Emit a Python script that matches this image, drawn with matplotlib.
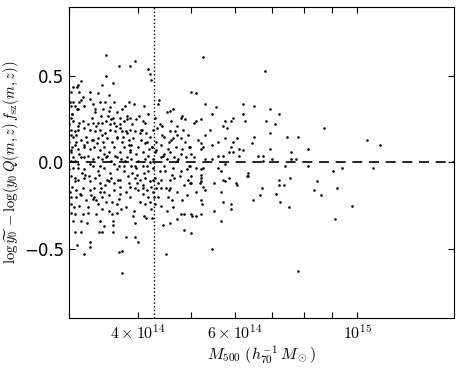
import matplotlib
matplotlib.use("Agg")
import matplotlib.pyplot as plt
import numpy as np

plt.rcParams['mathtext.fontset'] = 'cm'

# masses in units of 1e14 h70^-1 Msun, residuals in dex
# isolated high points
m_top = [3.50, 3.70, 3.87, 3.96, 3.50, 3.60, 3.45, 4.18, 4.20, 4.22, 5.25, 6.80]
d_top = [0.62, 0.56, 0.56, 0.59, 0.50, 0.46, 0.45, 0.54, 0.51, 0.48, 0.61, 0.53]

# high-mass tail
m_hi = [8.70, 10.4, 11.0, 9.05, 9.40, 10.7, 9.20, 8.60, 9.80, 9.10]
d_hi = [0.20, 0.13, 0.10, -0.05, -0.03, -0.03, -0.15, -0.19, -0.25, -0.33]

# isolated low points
m_lo = [7.80, 5.45, 5.00, 3.75, 3.20, 3.10, 3.28, 3.28, 3.70, 3.75,
        4.50, 4.00, 3.95, 3.80, 3.15, 3.40, 3.08, 3.60, 3.45]
d_lo = [-0.63, -0.50, -0.41, -0.64, -0.53, -0.48, -0.49, -0.46, -0.52, -0.51,
        -0.53, -0.46, -0.43, -0.43, -0.40, -0.40, -0.40, -0.40, -0.40]

# 5e14 - 8e14, above zero
m_mid_up = [4.99, 5.10, 5.30, 5.55, 5.45, 6.20, 6.50, 6.20, 6.95, 7.20,
            6.84, 6.25, 5.95, 5.90, 5.75, 5.20, 5.10, 5.05, 7.10, 5.70,
            5.80, 5.40, 5.30, 6.95, 6.50, 6.05, 5.75, 5.60, 5.95, 5.15,
            5.20, 5.45, 5.90, 4.95, 5.25, 5.20, 6.10, 6.45, 7.45, 7.80,
            6.95, 8.15, 7.60, 5.85, 5.95, 6.20, 5.00, 5.70, 5.60, 6.10,
            6.60, 6.75, 5.45, 5.30, 5.05, 7.00, 7.60, 7.75, 6.75, 5.75]
d_mid_up = [0.41, 0.40, 0.34, 0.32, 0.28, 0.34, 0.33, 0.28, 0.31, 0.28,
            0.24, 0.24, 0.26, 0.24, 0.24, 0.25, 0.24, 0.23, 0.22, 0.21,
            0.20, 0.19, 0.16, 0.17, 0.15, 0.14, 0.14, 0.12, 0.12, 0.13,
            0.11, 0.10, 0.09, 0.09, 0.09, 0.08, 0.08, 0.11, 0.15, 0.15,
            0.08, 0.08, 0.06, 0.06, 0.06, 0.07, 0.05, 0.04, 0.04, 0.04,
            0.04, 0.04, 0.02, 0.02, 0.03, 0.02, 0.02, 0.02, 0.01, -0.01]

# 5e14 - 8e14, below zero
m_mid_lo = [5.10, 5.25, 5.60, 4.95, 7.40, 8.15, 5.20, 5.65, 5.00, 5.20,
            5.20, 5.20, 4.97, 5.00, 5.18, 5.25, 5.30, 5.10, 5.50, 5.70,
            5.75, 5.85, 6.03, 6.05, 6.34, 6.34, 6.30, 5.65, 5.20, 5.23,
            5.70, 5.90, 5.90, 5.50, 6.47, 6.72, 6.65, 7.13, 7.20, 7.22,
            7.37, 7.56, 7.25, 7.52, 8.46, 8.35, 5.00, 5.02, 5.10, 5.20,
            5.65]
d_mid_lo = [-0.03, -0.03, -0.03, -0.02, -0.02, -0.02, -0.04, -0.05, -0.08, -0.07,
            -0.09, -0.11, -0.12, -0.12, -0.12, -0.14, -0.16, -0.17, -0.12, -0.10,
            -0.11, -0.09, -0.12, -0.13, -0.06, -0.08, -0.08, -0.17, -0.22, -0.24,
            -0.23, -0.24, -0.27, -0.28, -0.22, -0.15, -0.19, -0.18, -0.13, -0.10,
            -0.13, -0.09, -0.23, -0.26, -0.11, -0.16, -0.30, -0.31, -0.31, -0.30,
            -0.34]

# 3e14 - 3.9e14, above zero
m_a = [3.15, 3.12, 3.10, 3.05, 3.02, 3.13, 3.27, 3.38, 3.55, 3.18,
       3.05, 3.13, 3.28, 3.32, 3.42, 3.48, 3.62, 3.85, 3.01, 3.02,
       3.08, 3.12, 3.20, 3.35, 3.46, 3.56, 3.66, 3.75, 3.82, 3.71,
       3.02, 3.04, 3.05, 3.13, 3.18, 3.25, 3.31, 3.38, 3.45, 3.50,
       3.56, 3.62, 3.71, 3.77, 3.87, 3.00, 3.02, 3.07, 3.12, 3.20,
       3.28, 3.35, 3.42, 3.48, 3.56, 3.64, 3.71, 3.80, 3.02, 3.05,
       3.09, 3.15, 3.22, 3.31, 3.39, 3.46, 3.51, 3.59, 3.67, 3.75,
       3.85, 3.00, 3.04, 3.08, 3.12, 3.20, 3.28, 3.33, 3.41, 3.47,
       3.55, 3.62, 3.71, 3.77, 3.87, 3.02, 3.05, 3.13, 3.16, 3.25,
       3.32, 3.38, 3.44, 3.50, 3.58, 3.66, 3.73, 3.82, 3.02, 3.12,
       3.28, 3.41, 3.62, 3.77]
d_a = [0.47, 0.45, 0.44, 0.44, 0.41, 0.41, 0.41, 0.40, 0.39, 0.38,
       0.35, 0.35, 0.37, 0.34, 0.35, 0.35, 0.35, 0.35, 0.35, 0.33,
       0.33, 0.31, 0.33, 0.31, 0.31, 0.32, 0.29, 0.31, 0.27, 0.26,
       0.26, 0.28, 0.24, 0.23, 0.24, 0.22, 0.23, 0.23, 0.23, 0.24,
       0.22, 0.23, 0.22, 0.24, 0.26, 0.22, 0.19, 0.18, 0.19, 0.20,
       0.19, 0.18, 0.19, 0.17, 0.19, 0.18, 0.20, 0.18, 0.16, 0.15,
       0.16, 0.13, 0.15, 0.13, 0.14, 0.12, 0.14, 0.12, 0.14, 0.12,
       0.13, 0.12, 0.09, 0.10, 0.08, 0.10, 0.08, 0.09, 0.07, 0.09,
       0.06, 0.09, 0.06, 0.09, 0.07, 0.06, 0.03, 0.05, 0.03, 0.04,
       0.02, 0.03, 0.02, 0.03, 0.01, 0.03, 0.02, 0.03, 0.01, -0.01,
       -0.01, -0.02, -0.01, -0.02]

# 3.8e14 - 5e14, above zero
m_b = [3.93, 4.10, 4.37, 4.35, 4.57, 4.63, 4.17, 3.83, 3.97, 4.08,
       4.29, 4.39, 4.59, 4.79, 4.88, 3.87, 3.95, 4.07, 4.14, 4.26,
       4.42, 4.57, 4.72, 4.84, 4.94, 3.92, 4.05, 4.20, 4.32, 4.47,
       4.59, 4.79, 4.88, 3.89, 4.00, 4.12, 4.25, 4.40, 4.53, 4.69,
       4.82, 4.97, 3.87, 3.97, 4.08, 4.17, 4.30, 4.45, 4.57, 4.66,
       4.79, 4.90, 3.89, 4.00, 4.12, 4.20, 4.26, 4.51, 4.72, 3.95,
       4.15, 4.47, 4.97, 4.51, 4.81, 4.72]
d_b = [0.34, 0.33, 0.36, 0.34, 0.30, 0.31, 0.28, 0.25, 0.25, 0.24,
       0.26, 0.22, 0.24, 0.26, 0.25, 0.19, 0.18, 0.19, 0.17, 0.19,
       0.16, 0.18, 0.16, 0.19, 0.16, 0.14, 0.13, 0.15, 0.12, 0.15,
       0.13, 0.14, 0.12, 0.10, 0.09, 0.11, 0.09, 0.10, 0.08, 0.09,
       0.08, 0.09, 0.06, 0.05, 0.06, 0.04, 0.06, 0.04, 0.06, 0.03,
       0.05, 0.03, 0.02, 0.01, 0.02, 0.00, 0.02, 0.02, 0.01, -0.02,
       -0.02, -0.02, -0.02, 0.29, 0.27, 0.21]

# 3e14 - 3.9e14, below zero
m_c = [3.00, 3.05, 3.12, 3.20, 3.31, 3.38, 3.47, 3.56, 3.67, 3.77,
       3.02, 3.07, 3.12, 3.20, 3.28, 3.35, 3.42, 3.51, 3.62, 3.71,
       3.85, 3.04, 3.09, 3.18, 3.28, 3.33, 3.41, 3.47, 3.55, 3.62,
       3.71, 3.80, 3.87, 3.02, 3.09, 3.15, 3.22, 3.33, 3.36, 3.44,
       3.50, 3.67, 3.03, 3.13, 3.02, 3.08, 3.18, 3.25, 3.36, 3.55,
       3.59, 3.67, 3.73, 3.05, 3.16, 3.42, 3.47, 3.60, 3.60, 3.25]
d_c = [-0.04, -0.03, -0.03, -0.04, -0.02, -0.05, -0.03, -0.06, -0.04, -0.05,
       -0.08, -0.09, -0.10, -0.09, -0.11, -0.09, -0.12, -0.10, -0.12, -0.10,
       -0.12, -0.14, -0.16, -0.15, -0.16, -0.15, -0.17, -0.17, -0.19, -0.16,
       -0.18, -0.17, -0.20, -0.20, -0.20, -0.19, -0.22, -0.20, -0.22, -0.20,
       -0.23, -0.24, -0.24, -0.25, -0.29, -0.30, -0.30, -0.29, -0.30, -0.28,
       -0.30, -0.29, -0.27, -0.34, -0.34, -0.34, -0.37, -0.34, -0.36, -0.26]

# 3.8e14 - 5e14, below zero
m_d = [3.88, 3.97, 4.08, 4.18, 4.26, 4.48, 4.63, 4.79, 4.92, 3.95,
       4.03, 4.12, 4.20, 4.30, 4.40, 4.57, 4.66, 4.77, 4.94, 3.87,
       3.95, 4.00, 4.08, 4.15, 4.22, 4.32, 4.40, 4.57, 4.72, 4.85,
       4.08, 4.17, 4.26, 4.35, 4.53, 4.82, 4.03, 4.12, 4.20, 4.30,
       4.40, 4.63, 3.92, 4.10, 4.14, 4.25, 4.44, 4.57, 4.71, 4.79,
       4.86, 3.95, 4.86]
d_d = [-0.02, -0.03, -0.02, -0.05, -0.03, -0.05, -0.03, -0.05, -0.04, -0.09,
       -0.10, -0.09, -0.11, -0.09, -0.10, -0.10, -0.09, -0.08, -0.10, -0.14,
       -0.15, -0.16, -0.15, -0.16, -0.14, -0.15, -0.15, -0.15, -0.17, -0.13,
       -0.18, -0.20, -0.17, -0.20, -0.20, -0.22, -0.23, -0.24, -0.23, -0.24,
       -0.25, -0.26, -0.31, -0.31, -0.32, -0.32, -0.36, -0.35, -0.33, -0.30,
       -0.30, -0.35, -0.39]

# extra points in the crowded low-mass band
m_e = [3.03, 3.07, 3.11, 3.17, 3.23, 3.29, 3.34, 3.40, 3.44, 3.49,
       3.53, 3.58, 3.63, 3.69, 3.74, 3.79, 3.84, 3.90, 3.98, 4.04,
       4.11, 4.16, 4.23, 4.31, 4.36, 4.43, 4.49, 4.55, 4.61, 4.68,
       3.04, 3.09, 3.14, 3.19, 3.26, 3.30, 3.37, 3.43, 3.47, 3.54,
       3.59, 3.65, 3.70, 3.76, 3.81, 3.86, 3.91, 4.02, 4.09, 4.19,
       4.28, 4.34, 4.41, 4.52, 4.64, 4.74, 4.91, 3.06, 3.16, 3.24,
       3.36, 3.45, 3.57, 3.68, 3.79, 3.94, 4.06, 4.24, 4.38, 4.55,
       3.01, 3.10, 3.21, 3.30, 3.39, 3.52, 3.61, 3.72, 3.83, 3.99,
       4.13, 4.27, 4.46, 4.62, 3.08, 3.19, 3.32, 3.43, 3.55, 3.66]
d_e = [0.07, -0.11, 0.21, -0.06, 0.12, -0.19, 0.29, -0.07, 0.16, -0.13,
       0.27, -0.09, 0.04, -0.21, 0.18, 0.01, -0.08, 0.22, -0.12, 0.17,
       -0.06, 0.12, -0.27, 0.07, -0.12, 0.21, -0.15, 0.12, -0.07, 0.18,
       0.28, 0.12, -0.18, 0.03, -0.08, 0.26, 0.11, -0.15, 0.05, 0.30,
       -0.23, 0.21, -0.02, 0.15, -0.26, 0.10, -0.06, 0.27, -0.13, 0.08,
       -0.20, 0.20, 0.03, -0.28, 0.14, 0.02, -0.19, -0.26, 0.36, -0.35,
       0.21, -0.27, 0.25, -0.10, 0.33, -0.28, 0.19, 0.09, -0.05, -0.16,
       -0.17, 0.31, -0.07, 0.13, -0.24, 0.04, 0.26, -0.14, 0.17, -0.07,
       0.23, -0.10, 0.05, -0.22, 0.01, 0.09, -0.21, 0.27, -0.11, 0.15]

mass_cut = 4.28  # 1e14

mass = np.concatenate([m_top, m_hi, m_lo, m_mid_up, m_mid_lo,
                       m_a, m_b, m_c, m_d, m_e]) * 1e14
resid = np.concatenate([d_top, d_hi, d_lo, d_mid_up, d_mid_lo,
                        d_a, d_b, d_c, d_d, d_e])

fig = plt.figure(figsize=(4.63, 3.71), dpi=100)
ax = fig.add_axes([0.149, 0.143, 0.832, 0.838])

ax.scatter(mass, resid, s=3.5, c='k', linewidths=0)
ax.axhline(0, color='k', ls='--', lw=1.2, dashes=(6, 4))
ax.axvline(mass_cut * 1e14, color='k', ls=':', lw=1)

ax.set_xscale('log')
ax.set_xlim(3e14, 1.5e15)
ax.set_ylim(-0.9, 0.9)

xt = [3e14, 4e14, 5e14, 6e14, 7e14, 8e14, 9e14, 1e15]
xl = ['', r'$4\times10^{14}$', '', r'$6\times10^{14}$', '', '', '', r'$10^{15}$']
ax.xaxis.set_major_locator(matplotlib.ticker.FixedLocator(xt))
ax.xaxis.set_minor_locator(matplotlib.ticker.NullLocator())
ax.set_xticklabels(xl, fontsize=11.5)
ax.set_yticks([-0.5, 0.0, 0.5])
ax.set_yticklabels(['\u22120.5', '0.0', '0.5'], fontsize=12)
ax.tick_params(direction='in', top=True, right=True, length=4, width=0.8)

ax.set_xlabel(r'$M_{500}\ (h_{70}^{-1}\,M_\odot)$', fontsize=11.5, labelpad=2)
ax.set_ylabel(r'$\log\widetilde{y_0}\,-\log(y_0\,Q(m,z)\,f_{\rm sz}(m,z))$',
              fontsize=10.5, labelpad=2)

fig.savefig('out.png', dpi=100)
